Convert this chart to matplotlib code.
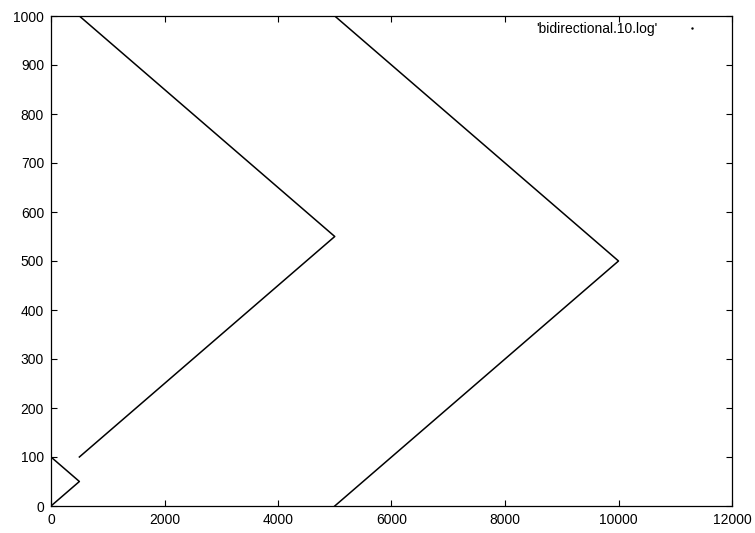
import matplotlib
matplotlib.use('Agg')
import matplotlib.pyplot as plt

plt.rcParams['font.family'] = ['Liberation Sans', 'DejaVu Sans']

# vertices of the three traces in bidirectional.10.log
x_a = [0, 500, 0]
y_a = [0, 50, 100]
x_b = [500, 5000, 500]
y_b = [100, 550, 1000]
x_c = [5000, 10000, 5000]
y_c = [0, 500, 1000]

xticks = [0, 2000, 4000, 6000, 8000, 10000, 12000]
yticks = [0, 100, 200, 300, 400, 500, 600, 700, 800, 900, 1000]

fig = plt.figure(figsize=(7.55, 5.33), dpi=100)
ax = fig.add_axes([51 / 755, 27 / 533, 681 / 755, 490 / 533])

for xs, ys in [(x_a, y_a), (x_b, y_b), (x_c, y_c)]:
    ax.plot(xs, ys, color='black', linewidth=1.1)

# legend sample: single dot, like gnuplot "with dots"
ax.plot([], [], linestyle='none', marker='.', markersize=1.5, color='black',
        label="'bidirectional.10.log'")
ax.legend(loc='upper right', frameon=False, markerfirst=False, fontsize=10,
          handlelength=3.4, borderaxespad=0.6,
          bbox_to_anchor=(1 - 2 / 681, 1 + 8 / 490))

ax.set_xlim(0, 12000)
ax.set_ylim(0, 1000)
ax.set_xticks(xticks)
ax.set_yticks(yticks)
ax.tick_params(direction='in', length=4, width=0.8, labelsize=10,
               top=True, right=True, pad=5)
for s in ax.spines.values():
    s.set_linewidth(0.9)

fig.savefig('out.png', dpi=100)
